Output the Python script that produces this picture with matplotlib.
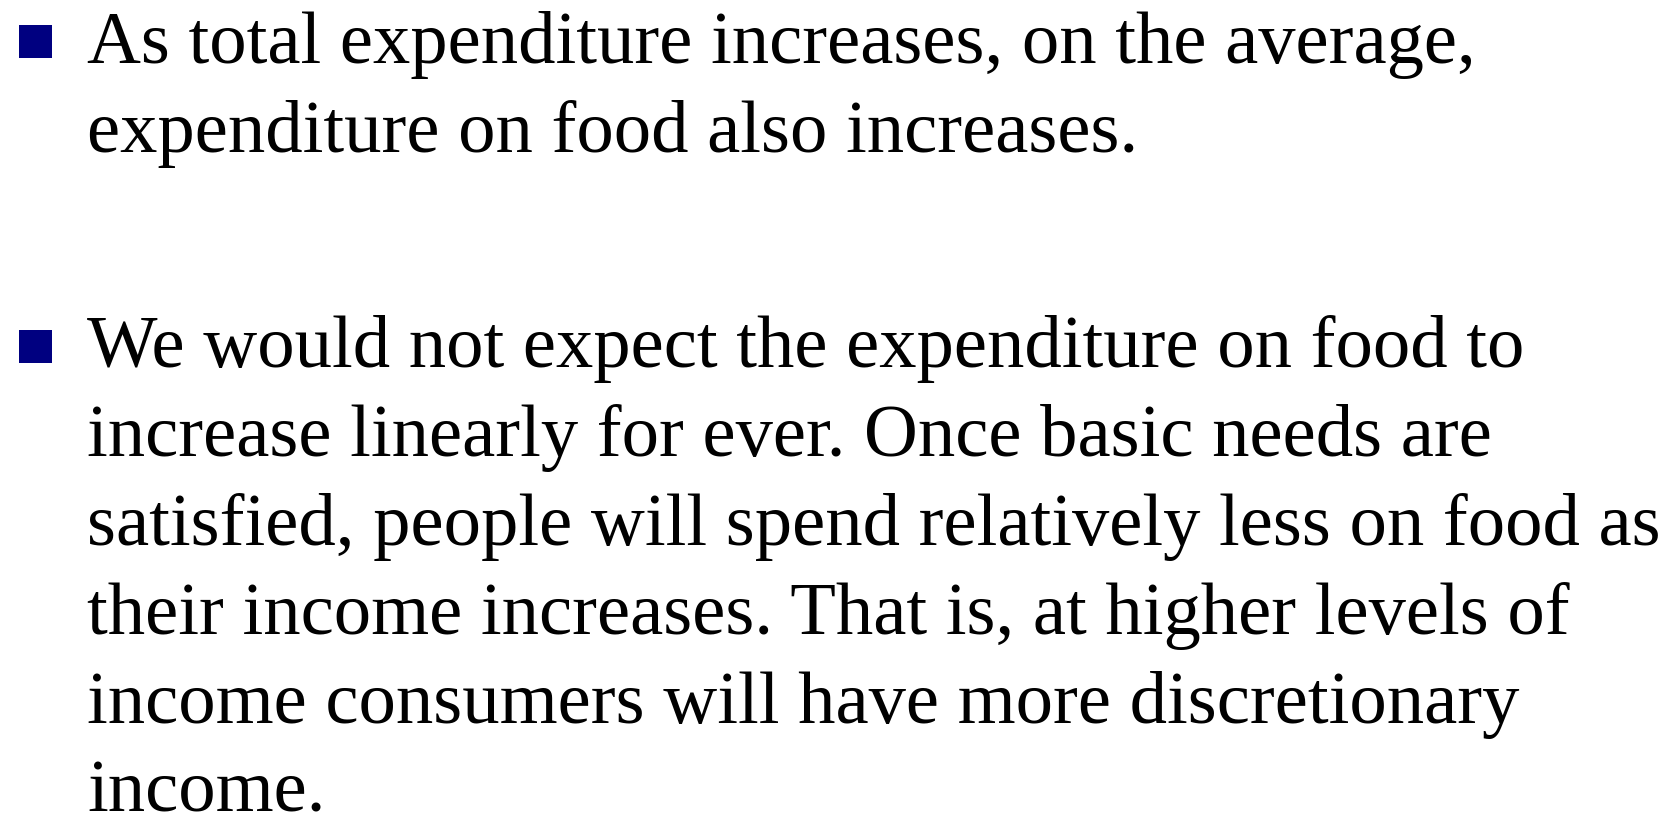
import matplotlib
matplotlib.use("Agg")
import matplotlib.pyplot as plt
from matplotlib.patches import Rectangle

# slide text, one list of wrapped lines per bullet
bullet_1 = [
    "As total expenditure increases, on the average,",
    "expenditure on food also increases.",
]
bullet_2 = [
    "We would not expect the expenditure on food to",
    "increase linearly for ever. Once basic needs are",
    "satisfied, people will spend relatively less on food as",
    "their income increases. That is, at higher levels of",
    "income consumers will have more discretionary",
    "income.",
]
bullets = [bullet_1, bullet_2]

W, H = 1668, 819
fig = plt.figure(figsize=(W / 100, H / 100), dpi=100)
ax = fig.add_axes([0, 0, 1, 1])
ax.set_xlim(0, W)
ax.set_ylim(H, 0)
ax.axis("off")

# layout in pixels
first_baseline = [63, 367]
line_gap = 89
text_x = 87
box_x, box_size = 19, 33
box_top = [25, 330]

for i, lines in enumerate(bullets):
    ax.add_patch(Rectangle((box_x, box_top[i]), box_size, box_size,
                           facecolor="#000080", edgecolor="none"))
    for j, line in enumerate(lines):
        ax.text(text_x, first_baseline[i] + j * line_gap, line,
                fontsize=53.7, family="Liberation Serif", color="black",
                va="baseline", ha="left")

fig.savefig("out.png", dpi=100, facecolor="white")
